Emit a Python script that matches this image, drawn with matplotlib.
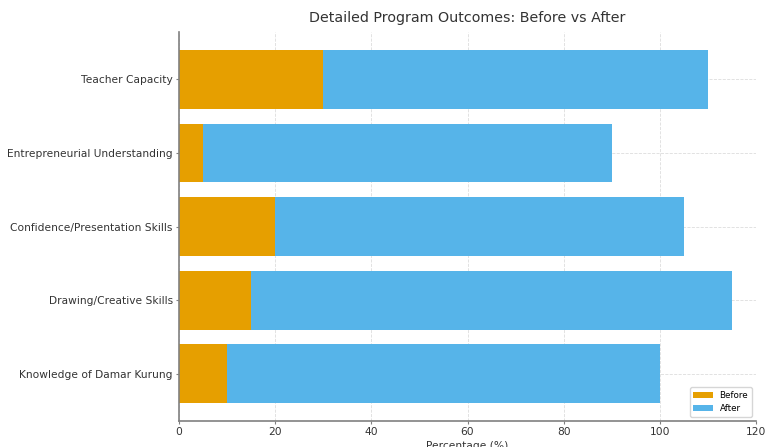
import matplotlib
matplotlib.use("Agg")
import matplotlib.pyplot as plt

categories = ["Knowledge of Damar Kurung", "Drawing/Creative Skills",
              "Confidence/Presentation Skills", "Entrepreneurial Understanding",
              "Teacher Capacity"]
before = [10, 15, 20, 5, 30]
after = [90, 100, 85, 85, 80]
xticks = [0, 20, 40, 60, 80, 100, 120]

fig = plt.figure(figsize=(7.66, 4.47), dpi=100)
ax = fig.add_axes([0.2337, 0.058, 0.7533, 0.870])

ax.barh(categories, before, color="#E69F00", label="Before", zorder=2)
ax.barh(categories, after, left=before, color="#56B4E9", label="After", zorder=2)

ax.set_xlim(0, 120)
ax.set_xticks(xticks)
ax.grid(True, linestyle="--", color="#dddddd", linewidth=0.6, zorder=0)
ax.set_axisbelow(True)
for s in ["top", "right"]:
    ax.spines[s].set_visible(False)
for s in ["left", "bottom"]:
    ax.spines[s].set_color("#808080")
    ax.spines[s].set_linewidth(1.2)
ax.tick_params(axis="both", labelsize=7.7, colors="#333333", length=2.5, pad=2,
               color="#808080")
ax.set_xlabel("Percentage (%)", fontsize=7.7, color="#333333", labelpad=3)
ax.set_title("Detailed Program Outcomes: Before vs After", fontsize=10.3,
             color="#333333", pad=7)
leg = ax.legend(loc="lower right", fontsize=6.3, frameon=True, edgecolor="#cccccc",
                handlelength=2.2)

fig.savefig("out.png", dpi=100)
